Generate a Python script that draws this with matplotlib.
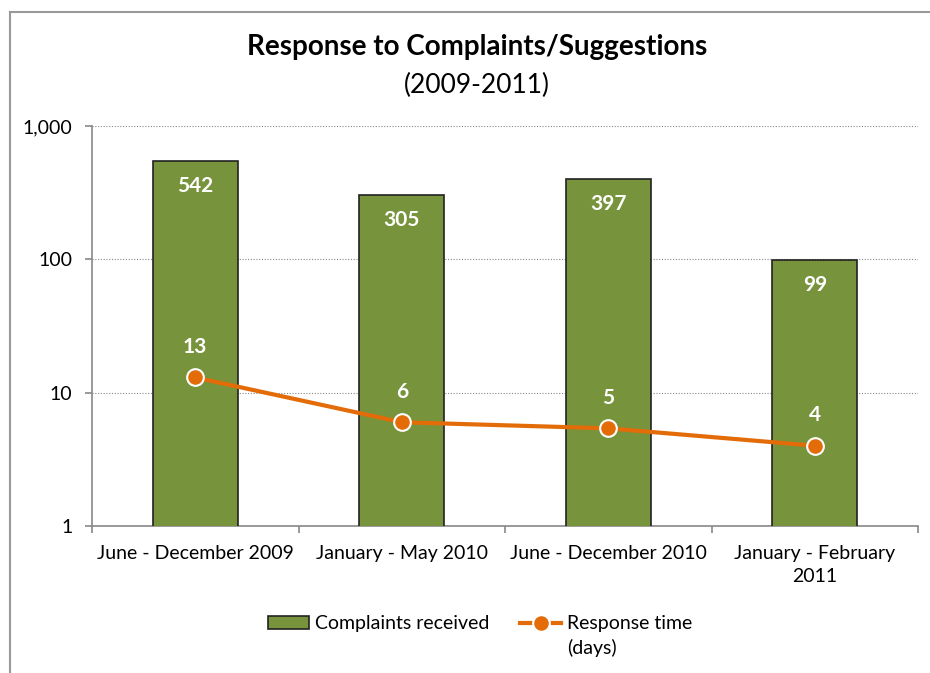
import matplotlib
matplotlib.use("Agg")
import matplotlib.pyplot as plt
from matplotlib.lines import Line2D
from matplotlib.ticker import FixedLocator, FuncFormatter
import numpy as np

plt.rcParams['font.family'] = ['Lato', 'DejaVu Sans']

# datos
periods = ["June - December 2009", "January - May 2010",
           "June - December 2010", "January - February\n2011"]
complaints = [542, 305, 397, 99]
response_days = [13, 6, 5.4, 4]
response_labels = ["13", "6", "5", "4"]

green = "#77933C"
orange = "#E36C09"

fig = plt.figure(figsize=(9.3, 6.73), dpi=100)
ax = fig.add_axes([92 / 930, 1 - 526 / 673, 826 / 930, 400 / 673])

x = np.arange(len(periods))
bars = ax.bar(x, complaints, width=0.41, color=green, edgecolor="#222222",
              linewidth=1.2, zorder=3)
line, = ax.plot(x, response_days, color=orange, lw=3, marker="o", markersize=12,
                markerfacecolor=orange, markeredgecolor="white", markeredgewidth=1.5,
                zorder=4)

ax.set_yscale("log")
ax.set_ylim(1, 1000)
ax.set_xlim(-0.5, len(periods) - 0.5)
ax.yaxis.set_major_locator(FixedLocator([1, 10, 100, 1000]))
ax.yaxis.set_minor_locator(FixedLocator([]))
ax.yaxis.set_major_formatter(FuncFormatter(lambda v, p: f"{int(v):,}"))
ax.grid(axis="y", which="major", color="#888888", linestyle=(0, (1, 1.5)), lw=0.8, zorder=0)

ax.set_xticks(x)
ax.set_xticklabels(periods, fontsize=14, linespacing=1.4)
ax.set_xticks(np.arange(len(periods) + 1) - 0.5, minor=True)
ax.tick_params(axis="x", which="major", length=0, pad=14)
ax.tick_params(axis="x", which="minor", length=5, color="#888888", width=1.2)
ax.tick_params(axis="y", length=5, color="#888888", width=1.2, labelsize=14, pad=9)

for s in ["top", "right"]:
    ax.spines[s].set_visible(False)
for s in ["left", "bottom"]:
    ax.spines[s].set_color("#888888")
    ax.spines[s].set_linewidth(1.2)

# etiquetas de datos
for xi, v in zip(x, complaints):
    ax.annotate(str(v), (xi, v), xytext=(0, -18), textcoords="offset points",
                ha="center", va="center", color="white", fontsize=15,
                fontweight="bold", zorder=5)
for xi, v, lab in zip(x, response_days, response_labels):
    ax.annotate(lab, (xi, v), xytext=(0, 22), textcoords="offset points",
                ha="center", va="center", color="white", fontsize=15,
                fontweight="bold", zorder=5)

fig.text(0.513, 1 - 47 / 673, "Response to Complaints/Suggestions",
         ha="center", va="center", fontsize=20, fontweight="bold")
fig.text(0.513, 1 - 85 / 673, "(2009-2011)", ha="center", va="center", fontsize=19)

# leyenda
leg = fig.legend([bars, line], ["Complaints received", "Response time"],
                 loc="center", bbox_to_anchor=(480 / 930, 1 - 624 / 673),
                 ncol=2, frameon=False, fontsize=14, handlelength=2.1,
                 handleheight=0.65, handletextpad=0.3, columnspacing=1.6)
fig.canvas.draw()
r = fig.canvas.get_renderer()
bb = leg.get_texts()[1].get_window_extent(r)
fig.text(bb.x0 / 930, (bb.y0 - 6) / 673, "(days)", ha="left", va="top", fontsize=14)

# borde del gráfico
fig.add_artist(Line2D([10 / 930, 10 / 930], [0, 1 - 12 / 673], color="#999999", lw=1.5))
fig.add_artist(Line2D([10 / 930, 1], [1 - 12 / 673, 1 - 12 / 673], color="#999999", lw=1.5))

fig.savefig("out.png", dpi=100)
